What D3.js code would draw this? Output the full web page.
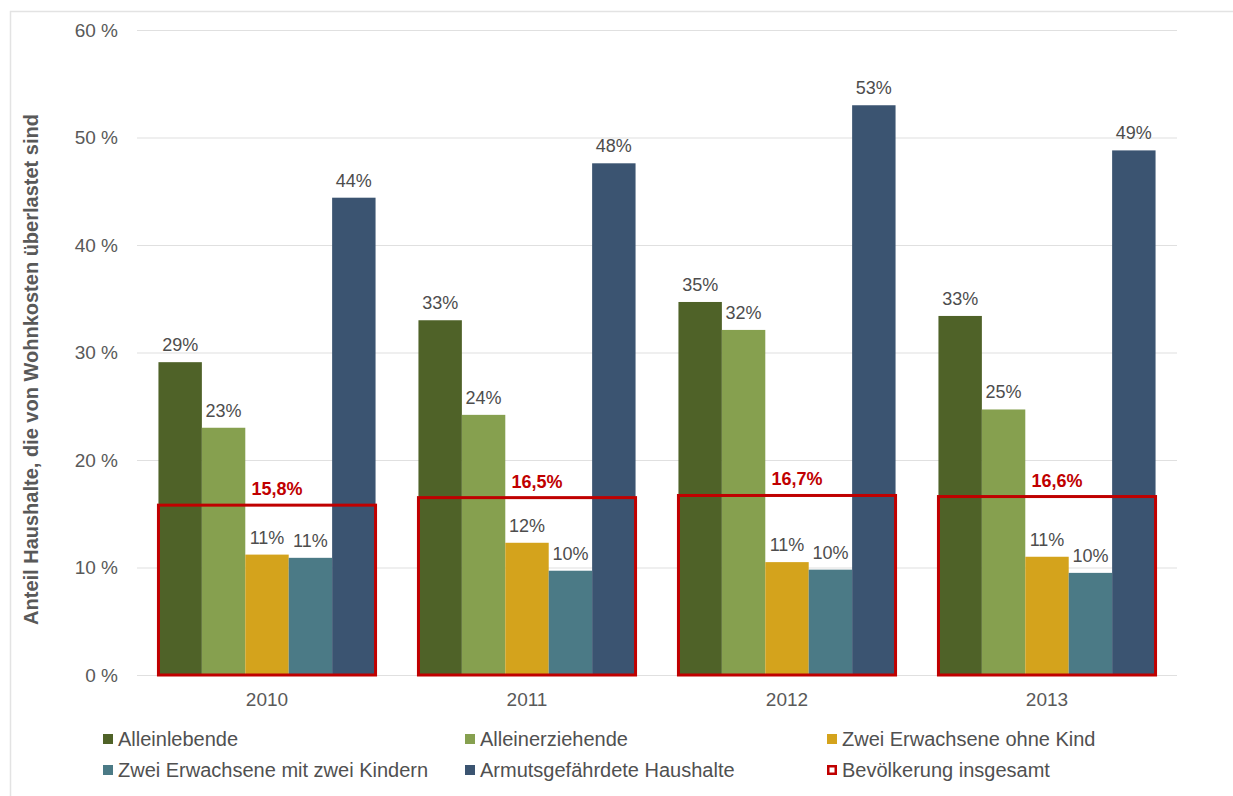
<!DOCTYPE html>
<html>
<head>
<meta charset="utf-8">
<script src="https://cdn.jsdelivr.net/npm/d3@7"></script>
<style>
  body { margin: 0; background: #fff; }
  #chart { width: 1233px; height: 796px; }
  text { font-family: "Liberation Sans", Arial, sans-serif; }
</style>
</head>
<body>
<div id="chart"></div>
<script>
// --- data ---
const years = ["2010", "2011", "2012", "2013"];
const seriesNames = [
  "Alleinlebende",
  "Alleinerziehende",
  "Zwei Erwachsene ohne Kind",
  "Zwei Erwachsene mit zwei Kindern",
  "Armutsgefährdete Haushalte"
];
const seriesColors = ["#4f6228", "#86a04f", "#d4a31c", "#4b7a86", "#3b5471"];
const alleinlebende = [29.1, 33.0, 34.7, 33.4];
const alleinerziehende = [23.0, 24.2, 32.1, 24.7];
const zweiOhneKind = [11.2, 12.3, 10.5, 11.0];
const zweiMitKindern = [10.9, 9.7, 9.8, 9.5];
const armutsgefaehrdet = [44.4, 47.6, 53.0, 48.8];
const bevoelkerung = [15.8, 16.5, 16.7, 16.6];
const bevoelkerungLabel = "Bevölkerung insgesamt";
const yTicks = [0, 10, 20, 30, 40, 50, 60];
const yTitle = "Anteil Haushalte, die von Wohnkosten überlastet sind";

const seriesValues = [alleinlebende, alleinerziehende, zweiOhneKind, zweiMitKindern, armutsgefaehrdet];

function draw_chart(container_id) {
  const container = d3.select(container_id);
  container.selectAll("*").remove();

  const width = 1233;
  const height = 796;
  const margin = { left: 137, right: 56, top: 30, bottom: 121 };
  const plotW = width - margin.left - margin.right;
  const plotH = height - margin.top - margin.bottom;

  const svg = container
    .append("svg")
    .attr("width", width)
    .attr("height", height);

  // outer frame (only top/left visible)
  svg.append("rect")
    .attr("x", 10.5)
    .attr("y", 11.5)
    .attr("width", 1240)
    .attr("height", 800)
    .attr("fill", "none")
    .attr("stroke", "#e3e3e3")
    .attr("stroke-width", 1.5);

  const g = svg.append("g")
    .attr("transform", `translate(${margin.left}, ${margin.top})`);

  // Scales
  const x0 = d3.scaleBand()
    .domain(years)
    .range([0, plotW])
    .paddingInner(0.165)
    .paddingOuter(0.0825);

  const x1 = d3.scaleBand()
    .domain(d3.range(seriesNames.length))
    .range([0, x0.bandwidth()]);

  const y = d3.scaleLinear()
    .domain([0, 60])
    .range([plotH, 0]);

  // --- Y axis with gridlines ---
  const yAxis = g.append("g")
    .call(
      d3.axisLeft(y)
        .tickValues(yTicks)
        .tickSizeInner(-plotW)
        .tickSizeOuter(0)
        .tickPadding(19)
        .tickFormat((d) => d + " %")
    );
  yAxis.select(".domain").remove();
  yAxis.selectAll(".tick line").attr("stroke", "#e0e0e0").attr("stroke-width", 1.2);
  yAxis.selectAll(".tick text")
    .style("font-size", "19px")
    .attr("fill", "#595959");

  // --- X axis ---
  const xAxis = g.append("g")
    .attr("transform", `translate(0, ${plotH})`)
    .call(d3.axisBottom(x0).tickSize(0).tickPadding(18));
  xAxis.select(".domain").remove();
  xAxis.selectAll(".tick text")
    .style("font-size", "19px")
    .attr("fill", "#595959");

  // Y title
  svg.append("text")
    .attr("transform", `translate(38, ${margin.top + plotH / 2 + 17}) rotate(-90)`)
    .attr("text-anchor", "middle")
    .style("font-size", "20px")
    .style("font-weight", "bold")
    .attr("fill", "#595959")
    .text(yTitle);

  // --- Bars ---
  const groups = g.selectAll(".year-group")
    .data(years)
    .enter()
    .append("g")
    .attr("class", "year-group")
    .attr("transform", (d) => `translate(${x0(d)}, 0)`);

  groups.each(function (year, yi) {
    const grp = d3.select(this);
    const rows = seriesValues.map((vals, si) => ({ si: si, v: vals[yi] }));

    grp.selectAll("rect.bar")
      .data(rows)
      .enter()
      .append("rect")
      .attr("class", "bar")
      .attr("x", (d) => x1(d.si))
      .attr("y", (d) => y(d.v))
      .attr("width", x1.bandwidth())
      .attr("height", (d) => plotH - y(d.v))
      .attr("fill", (d) => seriesColors[d.si]);

    grp.selectAll("text.val")
      .data(rows)
      .enter()
      .append("text")
      .attr("class", "val")
      .attr("x", (d) => x1(d.si) + x1.bandwidth() / 2)
      .attr("y", (d) => y(d.v) - 11)
      .attr("text-anchor", "middle")
      .style("font-size", "18px")
      .attr("fill", "#4d4d4d")
      .text((d) => Math.round(d.v) + "%");

    // Red box for Bevölkerung insgesamt
    const bv = bevoelkerung[yi];
    grp.append("rect")
      .attr("x", 0)
      .attr("y", y(bv))
      .attr("width", x0.bandwidth())
      .attr("height", plotH - y(bv))
      .attr("fill", "none")
      .attr("stroke", "#c00000")
      .attr("stroke-width", 3);

    grp.append("text")
      .attr("x", x0.bandwidth() / 2 + 10)
      .attr("y", y(bv) - 10)
      .attr("text-anchor", "middle")
      .style("font-size", "18px")
      .style("font-weight", "bold")
      .attr("fill", "#c00000")
      .text(String(bv).replace(".", ",") + "%");
  });

  // --- Legend ---
  const legendItems = seriesNames.map((n, i) => ({ name: n, color: seriesColors[i], box: false }));
  legendItems.push({ name: bevoelkerungLabel, color: "#c00000", box: true });

  const legend = svg.append("g").attr("class", "legend");
  const colX = [103, 465, 827];
  const rowY = [739, 770];

  legendItems.forEach((d, i) => {
    const lx = colX[i % 3];
    const ly = rowY[Math.floor(i / 3)];
    const item = legend.append("g").attr("transform", `translate(${lx}, ${ly})`);
    if (d.box) {
      item.append("rect")
        .attr("x", 1.25).attr("y", -3.75)
        .attr("width", 7.5).attr("height", 7.5)
        .attr("fill", "#fff")
        .attr("stroke", d.color)
        .attr("stroke-width", 2.5);
    } else {
      item.append("rect")
        .attr("x", 0).attr("y", -5)
        .attr("width", 10).attr("height", 10)
        .attr("fill", d.color);
    }
    item.append("text")
      .attr("x", 15)
      .attr("y", 7)
      .style("font-size", "20px")
      .attr("fill", "#505050")
      .text(d.name);
  });
}

draw_chart("#chart");
</script>
</body>
</html>
